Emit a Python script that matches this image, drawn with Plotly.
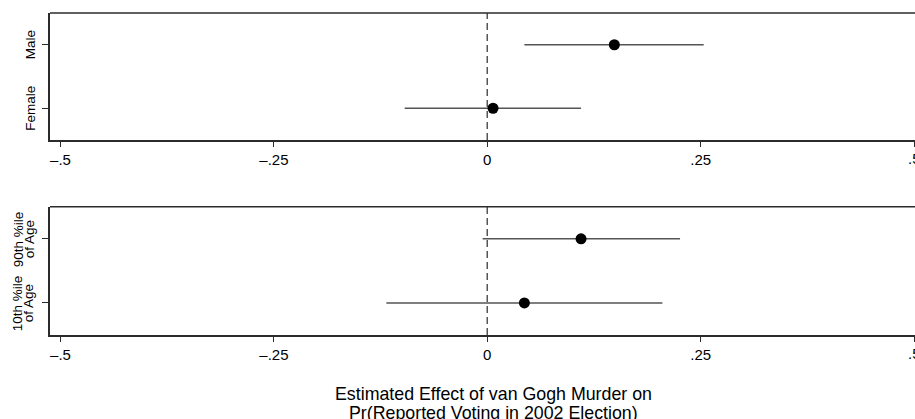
import plotly.graph_objects as go

# Effect estimates with 95% confidence bounds, one panel per subgroup split
sex_groups = ["Female", "Male"]
sex_est = [0.0068, 0.1489]
sex_lo = [-0.0968, 0.0435]
sex_hi = [0.1099, 0.2536]

age_groups = ["10th %ile\nof Age", "90th %ile\nof Age"]
age_est = [0.0435, 0.1099]
age_lo = [-0.1182, -0.0054]
age_hi = [0.2052, 0.2259]

x_ticks = [-0.5, -0.25, 0, 0.25, 0.5]
x_tick_text = ["\u2013.5", "\u2013.25", "0", ".25", ".5"]
x_title = ["Estimated Effect of van Gogh Murder on", "Pr(Reported Voting in 2002 Election)"]

W, H = 915, 419
FONT = "Liberation Sans, Arial, Helvetica, sans-serif"
AXIS_COLOR = "#2b2b2b"
BAR_COLOR = "#555555"


def px_x(p):
    return p / W


def px_y(p):
    return 1 - p / H


fig = go.Figure()

panels = [
    (sex_groups, sex_est, sex_lo, sex_hi, "x", "y"),
    (age_groups, age_est, age_lo, age_hi, "x2", "y2"),
]

for groups, est, lo, hi, xa, ya in panels:
    pos = list(range(1, len(groups) + 1))
    fig.add_trace(go.Scatter(
        x=est, y=pos, xaxis=xa, yaxis=ya, mode="markers",
        marker=dict(color="black", size=11, line=dict(width=0)),
        error_x=dict(
            type="data", symmetric=False,
            array=[h - e for h, e in zip(hi, est)],
            arrayminus=[e - l for e, l in zip(est, lo)],
            color=BAR_COLOR, thickness=1.4, width=0,
        ),
        showlegend=False, hoverinfo="skip",
    ))

# The last tick sits on the page edge, so its label is written as an
# annotation (clipped by the page) rather than as an axis tick label.
edge_tick = x_ticks[-1]
axis_tick_text = x_tick_text[:-1] + [""]

x_range = [-0.5 - 10.5 / 853.5, 0.5 + 1 / 853.5]
x_common = dict(
    range=x_range, tickmode="array", tickvals=x_ticks, ticktext=axis_tick_text,
    showgrid=False, zeroline=False, showline=True, linecolor=AXIS_COLOR,
    linewidth=1.6, mirror=False, ticks="outside", ticklen=5, tickwidth=1.2,
    tickcolor=AXIS_COLOR, tickfont=dict(family=FONT, size=15, color="black"),
    domain=[px_x(50), 1],
)
y_common = dict(
    range=[0.5, 2.5], tickmode="array", tickvals=[1, 2], ticktext=["", ""],
    showgrid=False, zeroline=False, showline=True, linecolor=AXIS_COLOR,
    linewidth=1.6, mirror=False, ticks="outside", ticklen=6, tickwidth=1.2,
    tickcolor=AXIS_COLOR,
)

fig.update_layout(
    width=W, height=H,
    margin=dict(l=0, r=0, t=0, b=0),
    paper_bgcolor="white", plot_bgcolor="white",
    xaxis=dict(anchor="y", **x_common),
    yaxis=dict(anchor="x", domain=[px_y(140), px_y(13)], **y_common),
    xaxis2=dict(anchor="y2", **x_common),
    yaxis2=dict(anchor="x2", domain=[px_y(335), px_y(206.7)], **y_common),
)

for xa, ya in [("x", "y"), ("x2", "y2")]:
    # Top edge of the panel frame
    fig.add_shape(type="line", xref=f"{xa} domain", yref=f"{ya} domain",
                  x0=0, x1=1, y0=1, y1=1,
                  line=dict(color=AXIS_COLOR, width=1.6))
    # Dashed reference line at zero effect
    fig.add_shape(type="line", xref=xa, yref=f"{ya} domain", x0=0, x1=0, y0=0, y1=1,
                  line=dict(color=BAR_COLOR, width=1.5, dash="7px,4px"), layer="below")
    # Label of the edge tick
    fig.add_annotation(
        text=x_tick_text[-1], showarrow=False, xref=xa, x=edge_tick, xanchor="center",
        yref=f"{ya} domain", y=0, yanchor="middle", yshift=-18,
        font=dict(family=FONT, size=15, color="black"),
    )

# Rotated category labels, one annotation per text line for tight spacing
LINE_GAP = 11
for groups, ya in [(sex_groups, "y"), (age_groups, "y2")]:
    for i, label in enumerate(groups):
        lines = label.split("\n")
        n = len(lines)
        for j, line in enumerate(lines):
            baseline = 35 - (n - 1 - j) * LINE_GAP - (1 if n > 1 else 0)
            fig.add_annotation(
                text=line, textangle=-90, showarrow=False,
                xref="paper", x=px_x(baseline - 4.6), xanchor="center",
                yref=ya, y=i + 1, yanchor="middle",
                font=dict(family=FONT, size=13.5, color="black"),
            )

# Shared x-axis title below the lower panel
for k, line in enumerate(x_title):
    fig.add_annotation(
        text=line, showarrow=False, xref="paper", x=px_x(493), xanchor="center",
        yref="paper", y=px_y(394 + 18.7 * k), yanchor="middle",
        font=dict(family=FONT, size=17.8, color="black"),
    )

fig.write_html("out.html")
